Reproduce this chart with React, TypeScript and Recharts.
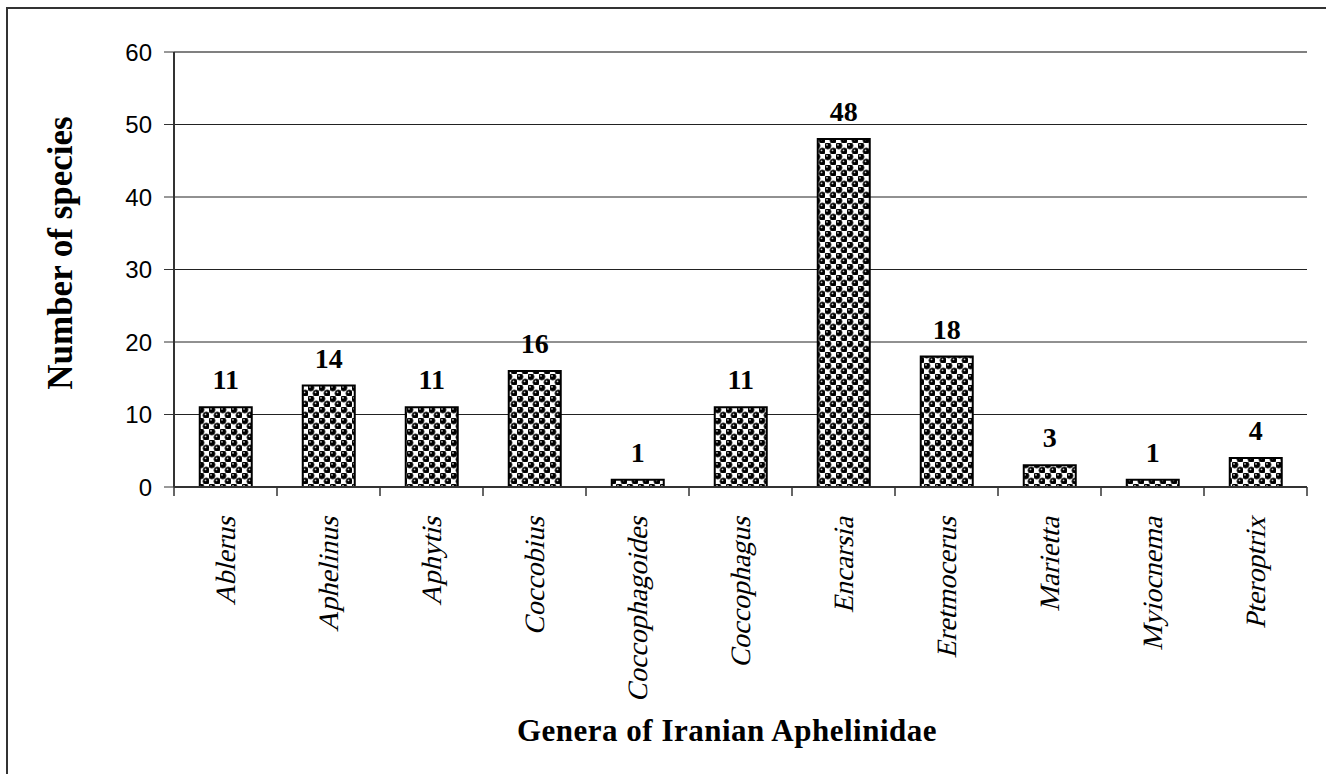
import React from "react"
import {
  BarChart,
  Bar,
  XAxis,
  YAxis,
  CartesianGrid,
  ReferenceLine,
  LabelList,
} from "recharts"

const genera = [
  "Ablerus",
  "Aphelinus",
  "Aphytis",
  "Coccobius",
  "Coccophagoides",
  "Coccophagus",
  "Encarsia",
  "Eretmocerus",
  "Marietta",
  "Myiocnema",
  "Pteroptrix",
]
const speciesCounts = [11, 14, 11, 16, 1, 11, 48, 18, 3, 1, 4]
const yTicks = [0, 10, 20, 30, 40, 50, 60]

const W = 1326
const H = 774
const M = { top: 52, right: 19, bottom: 37, left: 114 }
const Y_AXIS_W = 60
const X_AXIS_H = 250
const serif = "'Liberation Serif', 'Times New Roman', serif"
const sans = "'Liberation Sans', Arial, sans-serif"

// width of one category band, used for the between-category tick marks
const band = (W - M.left - M.right - Y_AXIS_W) / genera.length

const data = genera.map((genus, i) => ({ genus, count: speciesCounts[i] }))

function GenusTick(props: any) {
  const { x, y, payload, index } = props
  const left = x - band / 2
  const right = x + band / 2
  return (
    <g>
      <line x1={left} y1={y} x2={left} y2={y + 9} stroke="#333" strokeWidth={1.5} />
      {index === genera.length - 1 && (
        <line x1={right} y1={y} x2={right} y2={y + 9} stroke="#333" strokeWidth={1.5} />
      )}
      {/* skew gives a serif oblique even if no italic face is found */}
      <text
        transform={`translate(${x + 9}, ${y + 30}) rotate(-90) skewX(-14)`}
        textAnchor="end"
        fontFamily={serif}
        fontSize={28}
        fill="#000"
      >
        {payload.value}
      </text>
    </g>
  )
}

export default function App() {
  return (
    <div
      style={{
        position: "absolute",
        left: 0,
        top: 0,
        width: W,
        height: H,
        overflow: "hidden",
        background: "#fff",
      }}
    >
      {/* outer chart frame, only top and left edges fall inside the picture */}
      <div
        style={{
          position: "absolute",
          left: 6,
          top: 7,
          width: W + 100,
          height: H + 100,
          border: "2px solid #333",
        }}
      />
      <div style={{ position: "absolute", left: 0, top: 0 }}>
        <BarChart width={W} height={H} data={data} margin={M} barCategoryGap="25%">
          <defs>
            <pattern id="balls" width="11" height="11" patternUnits="userSpaceOnUse">
              <rect width="11" height="11" fill="#fff" />
              <circle cx="2.75" cy="2.75" r="3.5" fill="#000" />
              <circle cx="8.25" cy="8.25" r="3.5" fill="#000" />
              <circle cx="2.75" cy="2.75" r="3.5" fill="none" stroke="#777" strokeWidth="0.6" />
              <circle cx="8.25" cy="8.25" r="3.5" fill="none" stroke="#777" strokeWidth="0.6" />
              <circle cx="2" cy="1.8" r="0.9" fill="#ccc" />
              <circle cx="7.5" cy="7.3" r="0.9" fill="#ccc" />
            </pattern>
          </defs>
          <CartesianGrid
            vertical={false}
            horizontalValues={yTicks.slice(1, -1)}
            stroke="#222"
            strokeWidth={1}
          />
          <XAxis
            dataKey="genus"
            height={X_AXIS_H}
            interval={0}
            tickLine={false}
            tickSize={0}
            tickMargin={0}
            axisLine={{ stroke: "#333", strokeWidth: 2 }}
            tick={<GenusTick />}
          />
          <YAxis
            width={Y_AXIS_W}
            domain={[0, 60]}
            ticks={yTicks}
            interval={0}
            tickSize={10}
            tickMargin={12}
            axisLine={{ stroke: "#333", strokeWidth: 2 }}
            tickLine={{ stroke: "#333" }}
            tick={{ fill: "#000", fontSize: 24, fontFamily: sans }}
          />
          <YAxis
            yAxisId="frame"
            orientation="right"
            width={0}
            domain={[0, 60]}
            tick={false}
            tickLine={false}
            axisLine={{ stroke: "#808080", strokeWidth: 2 }}
          />
          <ReferenceLine y={60} stroke="#808080" strokeWidth={2} />
          <Bar
            dataKey="count"
            fill="url(#balls)"
            stroke="#000"
            strokeWidth={2}
            isAnimationActive={false}
          >
            <LabelList
              dataKey="count"
              position="top"
              offset={18}
              fill="#000"
              fontFamily={serif}
              fontWeight="bold"
              fontSize={28}
            />
          </Bar>
        </BarChart>
      </div>
      <svg
        width={W}
        height={H}
        style={{ position: "absolute", left: 0, top: 0, pointerEvents: "none" }}
      >
        <text
          transform="translate(72, 253) rotate(-90)"
          textAnchor="middle"
          fontFamily={serif}
          fontWeight="bold"
          fontSize={35}
          fill="#000"
        >
          Number of species
        </text>
        <text
          x={727}
          y={741}
          textAnchor="middle"
          fontFamily={serif}
          fontWeight="bold"
          fontSize={31}
          letterSpacing={0.5}
          fill="#000"
        >
          Genera of Iranian Aphelinidae
        </text>
      </svg>
    </div>
  )
}
